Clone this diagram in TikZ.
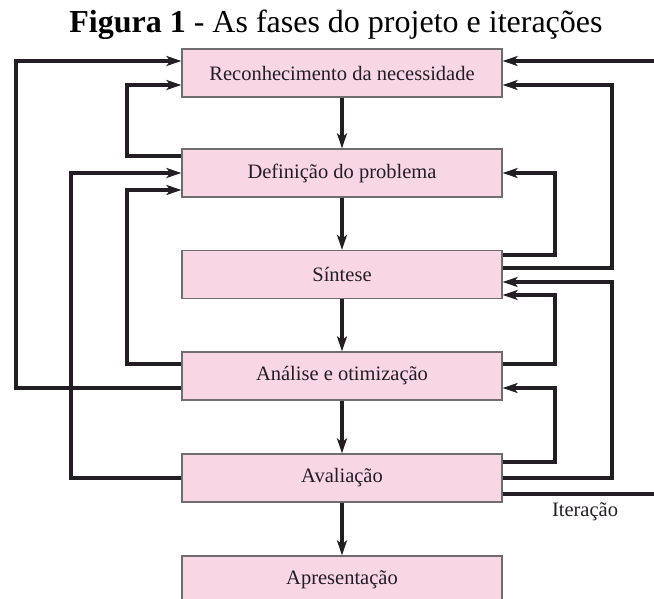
\documentclass[tikz,border=0pt]{standalone}
\usepackage{fontspec}
\setmainfont{Liberation Serif}
\usetikzlibrary{calc, arrows.meta}
\definecolor{boxpink}{RGB}{249,214,228}
\definecolor{boxedge}{RGB}{110,110,110}
\definecolor{ink}{RGB}{35,30,35}

\begin{document}
\begin{tikzpicture}[x=1pt, y=-1pt,
    phase/.style={draw=boxedge, line width=1.3pt, fill=boxpink, minimum width=320pt,
        minimum height=48pt, inner sep=0pt, text=ink, font=\fontsize{20.5}{24}\selectfont},
    flow/.style={-{Stealth[length=15pt, width=10pt, inset=4pt]}, draw=ink, line width=3.6pt},
    ]
    \useasboundingbox (0,0) rectangle (654,599);

    % Title
    \node[anchor=base, font=\fontsize{32}{36}\selectfont] (title) at (336,33)
        {\textbf{Figura 1} - As fases do projeto e iterações};

    % Phases
    \node[phase] (rec) at (342,73) {Reconhecimento da necessidade};
    \node[phase] (def) at (342,173) {Definição do problema};
    \node[phase] (sin) at (342,274.5) {Síntese};
    \node[phase] (ana) at (342,376) {Análise e otimização};
    \node[phase] (ava) at (342,478) {Avaliação};
    \node[phase] (apr) at (342,580) {Apresentação};

    % Main sequence
    \draw[flow] (rec) -- (def);
    \draw[flow] (def) -- (sin);
    \draw[flow] (sin) -- (ana);
    \draw[flow] (ana) -- (ava);
    \draw[flow] (ava) -- (apr);

    % Feedback on the left
    \draw[flow] (ana.west |- 0,388) -| (16,61) -- (rec.west |- 0,61);
    \draw[flow] (def.west |- 0,156) -| (127,85) -- (rec.west |- 0,85);
    \draw[flow] (ana.west |- 0,364) -| (127,190) -- (def.west |- 0,190);
    \draw[flow] (ava.west |- 0,478) -| (71,173) -- (def.west |- 0,173);

    % Feedback on the right
    \draw[flow] (sin.east |- 0,255) -| (555,173) -- (def.east |- 0,173);
    \draw[flow] (sin.east |- 0,268) -| (612,85) -- (rec.east |- 0,85);
    \draw[flow] (ana.east |- 0,364) -| (555,295) -- (sin.east |- 0,295);
    \draw[flow] (ava.east |- 0,462) -| (555,388) -- (ana.east |- 0,388);
    \draw[flow] (ava.east |- 0,478) -| (612,282) -- (sin.east |- 0,282);

    % Iteration loop (runs off the right edge)
    \draw[flow] (ava.east |- 0,494) -| (660,61) -- (rec.east |- 0,61);
    \node[text=ink, font=\fontsize{20.5}{24}\selectfont] (iter) at (585,512) {Iteração};
\end{tikzpicture}
\end{document}
